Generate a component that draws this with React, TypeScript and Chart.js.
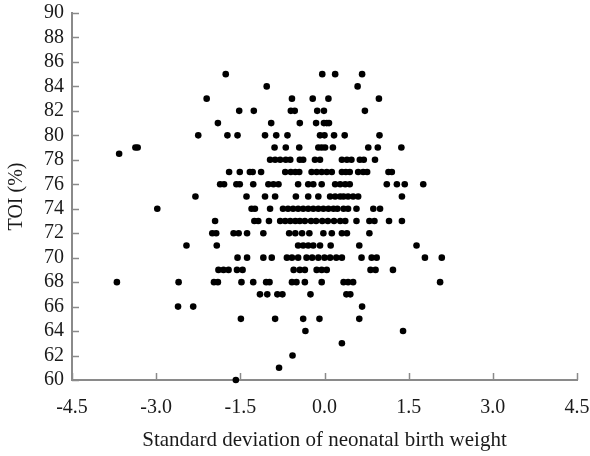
import { useEffect, useRef } from 'react';
import { Chart, registerables } from 'chart.js';

Chart.register(...registerables);

// TOI (%) levels and the SD-of-birth-weight values observed at each level
const toiLevels = [85, 84, 83, 82, 81, 80, 79, 78.5, 78, 77, 76, 75, 74, 73, 72, 71, 70, 69, 68, 67, 66, 65, 64, 63, 62, 61, 60];
const sdByLevel: number[][] = [
  [-1.76, -0.04, 0.19, 0.67],
  [-1.03, 0.59],
  [-2.10, -0.58, -0.21, 0.07, 0.97],
  [-1.52, -1.26, -0.60, -0.53, -0.13, -0.01, 0.72],
  [-1.90, -0.95, -0.44, -0.15, -0.01, 0.04, 0.08],
  [-2.25, -1.73, -1.55, -1.06, -0.86, -0.66, -0.08, 0.0, 0.17, 0.36, 0.98],
  [-3.37, -3.33, -0.89, -0.69, -0.45, -0.11, -0.05, 0.01, 0.15, 0.78, 0.95, 1.37],
  [-3.66],
  [-0.97, -0.88, -0.79, -0.69, -0.61, -0.44, -0.38, -0.17, -0.08, 0.31, 0.40, 0.48, 0.63, 0.70, 0.90],
  [-1.70, -1.51, -1.33, -1.28, -1.13, -0.70, -0.60, -0.52, -0.45, -0.23, -0.14, -0.05, 0.04, 0.13, 0.31, 0.38, 0.45, 0.60, 0.69, 0.76, 1.14, 1.20],
  [-1.86, -1.79, -1.57, -1.51, -1.27, -1.00, -0.91, -0.82, -0.47, -0.29, -0.20, -0.05, 0.19, 0.28, 0.37, 0.45, 1.11, 1.29, 1.43, 1.76],
  [-2.30, -1.39, -1.06, -0.88, -0.51, -0.29, -0.11, 0.10, 0.19, 0.28, 0.34, 0.42, 0.51, 0.60, 1.38],
  [-2.98, -1.30, -1.24, -0.97, -0.74, -0.65, -0.56, -0.47, -0.38, -0.29, -0.20, -0.11, -0.02, 0.07, 0.16, 0.23, 0.34, 0.42, 0.57, 0.87, 0.99],
  [-1.95, -1.25, -1.18, -0.99, -0.79, -0.70, -0.61, -0.52, -0.44, -0.35, -0.24, -0.15, -0.04, 0.06, 0.17, 0.28, 0.37, 0.57, 0.80, 0.89, 1.15, 1.38],
  [-2.00, -1.93, -1.62, -1.53, -1.38, -1.09, -0.63, -0.52, -0.40, -0.27, -0.02, 0.13, 0.31, 0.40, 0.80],
  [-2.46, -1.92, -0.47, -0.38, -0.29, -0.20, -0.08, 0.11, 0.62, 1.64],
  [-1.55, -1.38, -1.09, -0.94, -0.67, -0.58, -0.47, -0.32, -0.22, -0.11, 0.00, 0.10, 0.21, 0.31, 0.66, 0.84, 0.93, 1.79, 2.09],
  [-1.89, -1.80, -1.71, -1.56, -1.46, -0.55, -0.44, -0.35, -0.14, -0.05, 0.04, 0.82, 0.91, 1.22],
  [-3.70, -2.60, -1.97, -1.90, -1.48, -1.27, -1.04, -0.98, -0.58, -0.50, -0.35, -0.05, 0.34, 0.42, 0.51, 2.06],
  [-1.15, -1.02, -0.84, -0.75, -0.25, 0.39, 0.46],
  [-2.61, -2.34, 0.67],
  [-1.49, -0.88, -0.38, -0.09, 0.62],
  [-0.34, 1.40],
  [0.31],
  [-0.57],
  [-0.81],
  [-1.58],
];

const xMin = -4.5;
const xMax = 4.5;
const xStep = 1.5;
const yMin = 60;
const yMax = 90;
const yStep = 2;
const xTitle = 'Standard deviation of neonatal birth weight';
const yTitle = 'TOI (%)';

const AXIS_COLOR = '#8a8a8a';
const TEXT_COLOR = '#1a1a1a';
const FONT = "'Liberation Serif', 'Times New Roman', serif";

const innerTicks = {
  id: 'innerTicks',
  beforeDatasetsDraw(chart: any) {
    const { ctx, chartArea, scales } = chart;
    const xs = scales.x;
    const ys = scales.y;
    ctx.save();
    ctx.strokeStyle = AXIS_COLOR;
    ctx.lineWidth = 1.5;
    ctx.beginPath();
    xs.ticks.forEach((_: any, i: number) => {
      const px = Math.round(xs.getPixelForTick(i)) + 0.5;
      ctx.moveTo(px, chartArea.bottom);
      ctx.lineTo(px, chartArea.bottom - 7);
    });
    ys.ticks.forEach((_: any, i: number) => {
      const py = Math.round(ys.getPixelForTick(i)) + 0.5;
      ctx.moveTo(chartArea.left, py);
      ctx.lineTo(chartArea.left + 7, py);
    });
    ctx.stroke();
    ctx.restore();
  },
};

export default function App() {
  const ref = useRef<HTMLCanvasElement>(null);

  useEffect(() => {
    if (!ref.current) return;
    const points: { x: number; y: number }[] = [];
    toiLevels.forEach((lvl, i) => {
      sdByLevel[i].forEach((sd) => points.push({ x: sd, y: lvl }));
    });

    const chart = new Chart(ref.current, {
      type: 'scatter',
      data: {
        datasets: [
          {
            data: points,
            backgroundColor: '#000',
            borderWidth: 0,
            pointRadius: 3.3,
            pointHoverRadius: 3.3,
            clip: false as any,
          },
        ],
      },
      plugins: [innerTicks],
      options: {
        animation: false,
        responsive: false,
        devicePixelRatio: 1,
        layout: { padding: { top: 13, right: 13, left: 0, bottom: 0 } },
        plugins: { legend: { display: false }, tooltip: { enabled: false } },
        scales: {
          x: {
            type: 'linear',
            min: xMin,
            max: xMax,
            afterFit: (s: any) => {
              s.height = 76;
              s.paddingLeft = 0;
              s.paddingRight = 0;
            },
            ticks: {
              stepSize: xStep,
              autoSkip: false,
              maxRotation: 0,
              color: TEXT_COLOR,
              font: { family: FONT, size: 20 },
              padding: 16,
              callback: (v: any) => Number(v).toFixed(1),
            },
            grid: { display: false, drawTicks: false },
            border: { display: true, color: AXIS_COLOR, width: 2 },
            title: {
              display: true,
              text: xTitle,
              color: TEXT_COLOR,
              font: { family: FONT, size: 21 },
              padding: { top: 4, bottom: 3 },
            },
          },
          y: {
            type: 'linear',
            min: yMin,
            max: yMax,
            afterFit: (s: any) => {
              s.width = 72;
              s.paddingTop = 0;
              s.paddingBottom = 0;
            },
            ticks: {
              stepSize: yStep,
              autoSkip: false,
              color: TEXT_COLOR,
              font: { family: FONT, size: 20 },
              padding: 8,
            },
            grid: { display: false, drawTicks: false },
            border: { display: true, color: AXIS_COLOR, width: 2 },
            title: {
              display: true,
              text: yTitle,
              color: TEXT_COLOR,
              font: { family: FONT, size: 20 },
              padding: { top: 5, bottom: 4 },
            },
          },
        },
      },
    });
    return () => chart.destroy();
  }, []);

  return (
    <div style={{ position: 'absolute', left: 0, top: 0, width: 590, height: 456, background: '#fff' }}>
      <canvas ref={ref} width={590} height={456} style={{ display: 'block' }} />
    </div>
  );
}
